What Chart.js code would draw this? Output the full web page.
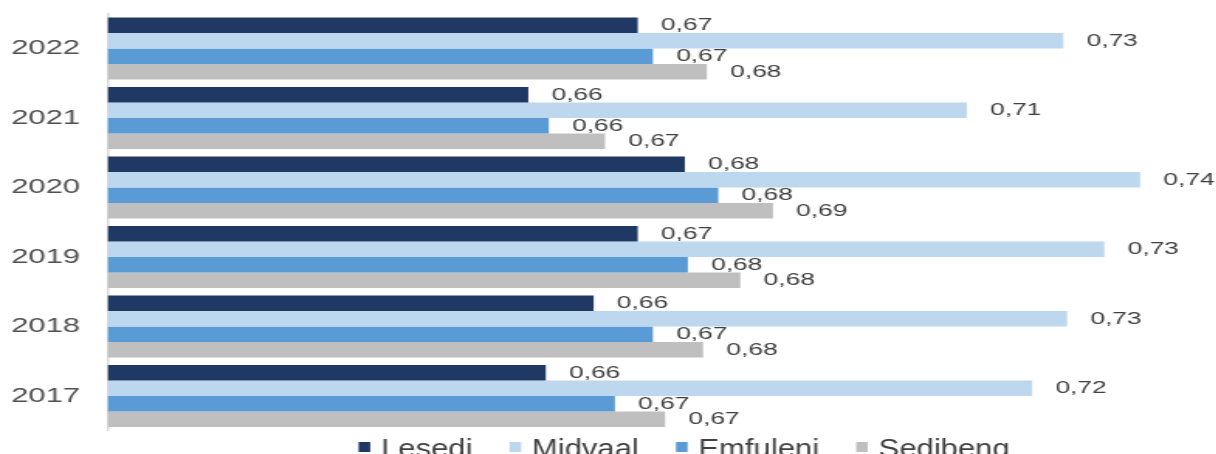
<!DOCTYPE html>
<html>
<head>
<meta charset="utf-8">
<script src="https://cdn.jsdelivr.net/npm/chart.js@4.4.1/dist/chart.umd.min.js"></script>
<style>
  html, body { margin: 0; padding: 0; background: #fff; overflow: hidden; }
  #wrap { position: absolute; left: 0; top: 0; }
</style>
</head>
<body>
<div id="wrap"><canvas id="hdi" width="879" height="470"></canvas></div>
<script>
// Years, listed top to bottom
const years = ['2022', '2021', '2020', '2019', '2018', '2017'];

const lesedi   = [0.6697, 0.6553, 0.6759, 0.6697, 0.6639, 0.6576];
const midvaal  = [0.7257, 0.7130, 0.7358, 0.7311, 0.7262, 0.7216];
const emfuleni = [0.6717, 0.6580, 0.6803, 0.6763, 0.6717, 0.6667];
const sedibeng = [0.6788, 0.6654, 0.6875, 0.6832, 0.6783, 0.6733];

const seriesNames = ['Lesedi', 'Midvaal', 'Emfuleni', 'Sedibeng'];
const seriesColors = ['#1f3864', '#bdd7ee', '#5b9bd5', '#bfbfbf'];

// the chart is drawn narrow and stretched sideways
const STRETCH_X = 1.55;
const FONT = '"Liberation Sans", Arial, sans-serif';

const canvas = document.getElementById('hdi');
canvas.style.width = (canvas.width * STRETCH_X) + 'px';
canvas.style.height = canvas.height + 'px';

// value text to the right of each bar
const barValues = {
    id: 'barValues',
    afterDatasetsDraw(chart) {
        const ctx = chart.ctx;
        ctx.save();
        ctx.font = '17px ' + FONT;
        ctx.fillStyle = '#404040';
        ctx.textAlign = 'left';
        ctx.textBaseline = 'middle';
        chart.data.datasets.forEach((ds, i) => {
            chart.getDatasetMeta(i).data.forEach((bar, j) => {
                const txt = ds.data[j].toFixed(2).replace('.', ',');
                ctx.fillText(txt, bar.x + 15, bar.y + 0.5);
            });
        });
        ctx.restore();
    }
};

// legend row along the bottom edge (runs off the bottom of the page)
const bottomLegend = {
    id: 'bottomLegend',
    afterDraw(chart) {
        const ctx = chart.ctx;
        const boxW = 7.5, boxH = 10, boxGap = 7, itemGap = 24;
        const baseline = 457, boxTop = 442, tall = 1.25;
        ctx.save();
        ctx.font = '20px ' + FONT;
        const widths = seriesNames.map(n => ctx.measureText(n).width);
        const total = widths.reduce((a, w) => a + boxW + boxGap + w, 0) + itemGap * (seriesNames.length - 1);
        let x = chart.width / 2 - total / 2 + 2;
        ctx.textBaseline = 'alphabetic';
        seriesNames.forEach((name, i) => {
            ctx.fillStyle = seriesColors[i];
            ctx.fillRect(x, boxTop, boxW, boxH);
            x += boxW + boxGap;
            ctx.save();
            ctx.translate(x, baseline);
            ctx.scale(1, tall);
            ctx.fillStyle = '#404040';
            ctx.fillText(name, 0, 0);
            ctx.restore();
            x += widths[i] + itemGap;
        });
        ctx.restore();
    }
};

const chart = new Chart(canvas, {
    type: 'bar',
    data: {
        labels: years,
        datasets: [
            { label: seriesNames[0], data: lesedi,   backgroundColor: seriesColors[0] },
            { label: seriesNames[1], data: midvaal,  backgroundColor: seriesColors[1] },
            { label: seriesNames[2], data: emfuleni, backgroundColor: seriesColors[2] },
            { label: seriesNames[3], data: sedibeng, backgroundColor: seriesColors[3] }
        ]
    },
    options: {
        indexAxis: 'y',
        responsive: false,
        animation: false,
        devicePixelRatio: 1,
        datasets: {
            bar: { barPercentage: 1.0, categoryPercentage: 0.892, borderWidth: 0 }
        },
        layout: { padding: { top: 13.75, bottom: 39.25, left: 0, right: 0 } },
        plugins: {
            legend: { display: false },
            tooltip: { enabled: false }
        },
        scales: {
            x: {
                display: false,
                min: 0.6,
                max: 0.765
            },
            y: {
                grid: { display: false, drawTicks: false },
                border: { display: true, color: '#d9d9d9', width: 1.5 },
                ticks: {
                    color: '#505050',
                    padding: 18,
                    font: { family: FONT, size: 20 }
                },
                afterFit(scale) {
                    scale.width = 69.7;
                    scale.paddingTop = 0;
                    scale.paddingBottom = 0;
                }
            }
        }
    },
    plugins: [barValues, bottomLegend]
});
</script>
</body>
</html>
